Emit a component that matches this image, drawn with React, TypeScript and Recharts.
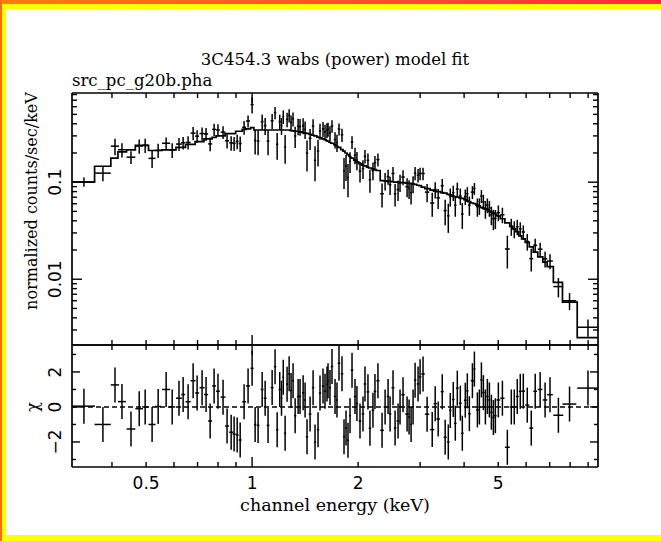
import React from 'react';
import { ComposedChart, Scatter, Line, XAxis, YAxis, ErrorBar, ReferenceLine } from 'recharts';

// channel centres (keV) and half widths
const energy = [
  0.333, 0.377, 0.408, 0.427, 0.453, 0.478, 0.497, 0.520, 0.541, 0.570,
  0.593, 0.620, 0.637, 0.658, 0.680, 0.698, 0.721, 0.740, 0.760, 0.780,
  0.800, 0.827, 0.849, 0.872, 0.889, 0.907, 0.925, 0.949, 0.974, 1.000,
  1.020, 1.040, 1.068, 1.089, 1.110, 1.140, 1.162, 1.178, 1.198, 1.212,
  1.226, 1.241, 1.257, 1.274, 1.290, 1.307, 1.325, 1.351, 1.368, 1.396,
  1.414, 1.432, 1.461, 1.490, 1.509, 1.539, 1.559, 1.590, 1.611, 1.632,
  1.643, 1.664, 1.686, 1.720, 1.742, 1.765, 1.800, 1.824, 1.848, 1.872,
  1.897, 1.922, 1.960, 1.985,
  2.025, 2.065, 2.092, 2.133, 2.161, 2.204, 2.233, 2.277, 2.339, 2.386,
  2.433, 2.465, 2.513, 2.547, 2.597, 2.631, 2.683, 2.755, 2.791, 2.828,
  2.865, 2.903, 2.960, 2.999, 3.058, 3.140, 3.247, 3.311, 3.376, 3.467,
  3.534, 3.607, 3.654, 3.726, 3.776, 3.826, 3.902, 3.953, 4.031, 4.085,
  4.140, 4.223, 4.278, 4.363, 4.420, 4.479, 4.537, 4.597, 4.657, 4.719,
  4.781, 4.844, 4.907, 5.004, 5.138, 5.307, 5.446, 5.553, 5.663, 5.775,
  5.890, 6.045, 6.205, 6.367, 6.576, 6.792, 7.015, 7.410, 7.970, 8.990,
];

const energyErr = [
  0.025, 0.020, 0.011, 0.011, 0.013, 0.012, 0.010, 0.012, 0.011, 0.015,
  0.012, 0.012, 0.008, 0.011, 0.011, 0.009, 0.012, 0.010, 0.010, 0.010,
  0.010, 0.013, 0.011, 0.011, 0.009, 0.009, 0.009, 0.012, 0.013, 0.010,
  0.008, 0.009, 0.010, 0.010, 0.010, 0.011, 0.009, 0.009, 0.009, 0.007,
  0.007, 0.008, 0.008, 0.008, 0.008, 0.009, 0.010, 0.010, 0.010, 0.011,
  0.009, 0.011, 0.013, 0.012, 0.011, 0.012, 0.012, 0.012, 0.011, 0.008,
  0.008, 0.011, 0.014, 0.014, 0.011, 0.015, 0.015, 0.012, 0.012, 0.012,
  0.012, 0.016, 0.016, 0.014,
  0.018, 0.017, 0.017, 0.019, 0.017, 0.019, 0.019, 0.024, 0.028, 0.023,
  0.022, 0.020, 0.025, 0.021, 0.025, 0.022, 0.030, 0.032, 0.018, 0.018,
  0.018, 0.022, 0.025, 0.025, 0.035, 0.045, 0.045, 0.035, 0.040, 0.035,
  0.035, 0.030, 0.028, 0.032, 0.030, 0.035, 0.035, 0.035, 0.035, 0.030,
  0.035, 0.045, 0.030, 0.040, 0.035, 0.035, 0.035, 0.035, 0.035, 0.035,
  0.035, 0.035, 0.040, 0.060, 0.070, 0.085, 0.055, 0.055, 0.055, 0.055,
  0.065, 0.080, 0.080, 0.080, 0.100, 0.100, 0.130, 0.240, 0.360, 0.610,
];

// normalized counts/sec/keV
const flux = [
  0.1005, 0.124, 0.235, 0.216, 0.181, 0.236, 0.240, 0.176, 0.213, 0.252,
  0.215, 0.247, 0.255, 0.257, 0.320, 0.298, 0.317, 0.314, 0.248, 0.350,
  0.345, 0.328, 0.267, 0.254, 0.251, 0.263, 0.250, 0.368, 0.427, 0.630,
  0.269, 0.265, 0.421, 0.383, 0.265, 0.429, 0.520, 0.246, 0.421, 0.383,
  0.474, 0.231, 0.444, 0.489, 0.411, 0.449, 0.299, 0.377, 0.374, 0.383,
  0.350, 0.199, 0.284, 0.379, 0.168, 0.209, 0.337, 0.354, 0.330, 0.345,
  0.352, 0.321, 0.379, 0.275, 0.257, 0.353, 0.308, 0.131, 0.147, 0.112,
  0.164, 0.259, 0.190, 0.169,
  0.130, 0.138, 0.185, 0.168, 0.106, 0.132, 0.159, 0.171, 0.076, 0.103,
  0.114, 0.094, 0.123, 0.076, 0.084, 0.099, 0.113, 0.090, 0.086, 0.078,
  0.096, 0.124, 0.118, 0.123, 0.123, 0.079, 0.061, 0.084, 0.069, 0.092,
  0.051, 0.045, 0.071, 0.078, 0.058, 0.085, 0.072, 0.047, 0.071, 0.076,
  0.058, 0.079, 0.086, 0.056, 0.057, 0.072, 0.063, 0.053, 0.058, 0.054,
  0.046, 0.042, 0.0423, 0.0486, 0.0462, 0.0205, 0.035, 0.033, 0.0347, 0.033,
  0.0307, 0.0245, 0.0163, 0.0224, 0.0204, 0.0162, 0.0154, 0.0084, 0.0060, 0.0032,
];

const fluxErr = [
  0.011, 0.022, 0.046, 0.036, 0.027, 0.040, 0.040, 0.036, 0.036, 0.037,
  0.037, 0.038, 0.038, 0.040, 0.050, 0.045, 0.050, 0.048, 0.040, 0.050,
  0.050, 0.050, 0.045, 0.043, 0.042, 0.045, 0.045, 0.060, 0.060, 0.120,
  0.076, 0.076, 0.076, 0.076, 0.076, 0.076, 0.076, 0.076, 0.076, 0.076,
  0.076, 0.076, 0.076, 0.076, 0.075, 0.074, 0.074, 0.073, 0.073, 0.072,
  0.071, 0.070, 0.069, 0.067, 0.066, 0.064, 0.063, 0.062, 0.061, 0.059,
  0.058, 0.057, 0.055, 0.053, 0.052, 0.050, 0.048, 0.046, 0.044, 0.042,
  0.040, 0.039, 0.037, 0.036,
  0.031, 0.030, 0.029, 0.029, 0.028, 0.027, 0.027, 0.026, 0.021, 0.021,
  0.020, 0.020, 0.020, 0.020, 0.020, 0.020, 0.020, 0.020, 0.019, 0.019,
  0.019, 0.019, 0.019, 0.018, 0.018, 0.017, 0.017, 0.016, 0.016, 0.016,
  0.015, 0.015, 0.015, 0.014, 0.014, 0.014, 0.014, 0.014, 0.013, 0.013,
  0.013, 0.012, 0.012, 0.012, 0.011, 0.011, 0.011, 0.011, 0.010, 0.010,
  0.010, 0.010, 0.0094, 0.009, 0.0084, 0.0076, 0.007, 0.0066, 0.0062, 0.0056,
  0.0052, 0.0048, 0.0043, 0.0038, 0.0034, 0.003, 0.0027, 0.0019, 0.0012, 0.00065,
];

// folded wabs*power model per channel
const model = [
  0.100, 0.146, 0.177, 0.205, 0.215, 0.240, 0.240, 0.212, 0.212, 0.215,
  0.215, 0.228, 0.228, 0.245, 0.245, 0.262, 0.262, 0.280, 0.280, 0.290,
  0.300, 0.300, 0.316, 0.316, 0.316, 0.335, 0.335, 0.350, 0.355, 0.365,
  0.345, 0.345, 0.345, 0.345, 0.345, 0.345, 0.345, 0.345, 0.345, 0.345,
  0.345, 0.345, 0.345, 0.345, 0.340, 0.338, 0.336, 0.333, 0.330, 0.325,
  0.322, 0.318, 0.312, 0.305, 0.300, 0.292, 0.287, 0.280, 0.275, 0.268,
  0.265, 0.258, 0.252, 0.243, 0.236, 0.228, 0.217, 0.209, 0.200, 0.192,
  0.184, 0.177, 0.168, 0.162,
  0.155, 0.150, 0.147, 0.143, 0.140, 0.137, 0.135, 0.132, 0.104, 0.103,
  0.102, 0.102, 0.101, 0.100, 0.100, 0.099, 0.099, 0.098, 0.097, 0.097,
  0.096, 0.095, 0.093, 0.092, 0.089, 0.086, 0.083, 0.081, 0.080, 0.078,
  0.077, 0.075, 0.074, 0.072, 0.071, 0.070, 0.069, 0.068, 0.066, 0.064,
  0.063, 0.061, 0.060, 0.058, 0.057, 0.055, 0.054, 0.053, 0.052, 0.050,
  0.049, 0.048, 0.047, 0.045, 0.042, 0.038, 0.035, 0.033, 0.031, 0.028,
  0.026, 0.024, 0.0215, 0.019, 0.017, 0.015, 0.0135, 0.0093, 0.0058, 0.0025,
];

const xTicks = [0.4, 0.5, 0.6, 0.7, 0.8, 0.9, 1, 2, 3, 4, 5, 6, 7, 8, 9];
const xTickLabels = [0.5, 1, 2, 5];
const xMajor = [1];
const yTicks = [
  0.003, 0.004, 0.005, 0.006, 0.007, 0.008, 0.009,
  0.01, 0.02, 0.03, 0.04, 0.05, 0.06, 0.07, 0.08, 0.09,
  0.1, 0.2, 0.3, 0.4, 0.5, 0.6, 0.7, 0.8,
];
const yTickLabels = [0.01, 0.1];
const chiTicks = [-3, -2, -1, 0, 1, 2, 3];
const chiTickLabels = [-2, 0, 2];

const W = 661;
const H = 541;
const LEFT = 72;
const RIGHT = 598;
const TOP = 93;
const MID = 345;
const BOTTOM = 467;

const xDomain = [0.308, 9.6];
const yDomain = [0.0021, 0.83];
const chiDomain = [-3.43, 3.54];

const points = energy.map((e, i) => ({
  e,
  de: energyErr[i],
  f: flux[i],
  fe: fluxErr[i],
  chi: (flux[i] - model[i]) / fluxErr[i],
  one: 1,
}));

const modelSteps = energy.map((e, i) => ({ e: e - energyErr[i], m: model[i] }));
modelSteps.push({
  e: energy[energy.length - 1] + energyErr[energyErr.length - 1],
  m: model[model.length - 1],
});

const tickFont = '"DejaVu Sans", sans-serif';
const labelFont = '"DejaVu Serif", serif';
const frame = { stroke: '#000', strokeWidth: 1.7 };
const BAR = 1.5;

type Side = 'top' | 'bottom' | 'left' | 'right';

const fmt = (v: number) => (v < 0 ? `\u2212${-v}` : String(v));

const makeTick = (side: Side, majors: number[], labels: number[], long: number, short: number) =>
  (props: any) => {
    const { x, y, payload } = props;
    const v = payload.value;
    const len = majors.includes(v) ? long : short;
    const dx = side === 'left' ? len : side === 'right' ? -len : 0;
    const dy = side === 'bottom' ? -len : side === 'top' ? len : 0;
    const show = labels.includes(v);
    return (
      <g>
        <line x1={x} y1={y} x2={x + dx} y2={y + dy} stroke="#000" strokeWidth={1.4} />
        {show && side === 'bottom' && (
          <text x={x} y={y + 16} textAnchor="middle" dominantBaseline="central"
            fontFamily={tickFont} fontSize={17} fill="#000">{fmt(v)}</text>
        )}
        {show && side === 'left' && (
          <text x={x - 17} y={y} transform={`rotate(-90 ${x - 17} ${y})`} textAnchor="middle"
            dominantBaseline="central" fontFamily={tickFont} fontSize={17} fill="#000">{fmt(v)}</text>
        )}
      </g>
    );
  };

const noDot = () => <g />;

// four axes per panel; each is 1px thick so Recharts draws it, margins take that pixel back
const Frame = ({ yKey, domain, ticks, majors, labels, long, short, xLabels }: any) => [
  <XAxis key="xb" xAxisId="b" dataKey="e" type="number" scale="log" domain={xDomain} allowDataOverflow
    ticks={xTicks} interval={0} tickSize={0} tickMargin={0} tickLine={false} axisLine={frame} height={1}
    tick={makeTick('bottom', xMajor, xLabels, 10, 5)} />,
  <XAxis key="xt" xAxisId="t" orientation="top" dataKey="e" type="number" scale="log" domain={xDomain}
    allowDataOverflow ticks={xTicks} interval={0} tickSize={0} tickMargin={0} tickLine={false}
    axisLine={frame} height={1} tick={makeTick('top', xMajor, [], 10, 5)} />,
  <YAxis key="yl" yAxisId="l" dataKey={yKey} type="number" scale={yKey === 'f' ? 'log' : 'linear'}
    domain={domain} allowDataOverflow ticks={ticks} interval={0} tickSize={0} tickMargin={0}
    tickLine={false} axisLine={frame} width={1} tick={makeTick('left', majors, labels, long, short)} />,
  <YAxis key="yr" yAxisId="r" orientation="right" dataKey={yKey} type="number"
    scale={yKey === 'f' ? 'log' : 'linear'} domain={domain} allowDataOverflow ticks={ticks} interval={0}
    tickSize={0} tickMargin={0} tickLine={false} axisLine={frame} width={1}
    tick={makeTick('right', majors, [], long, short)} />,
];

const App: React.FC = () => {
  return (
    <div style={{ position: 'fixed', left: 0, top: 0, width: W, height: H, background: '#ffff00', overflow: 'hidden' }}>
      <div style={{ position: 'absolute', left: 0, top: 0, width: W, height: 4, background: 'linear-gradient(to right, #ff7a10, #ff2a40)' }} />
      <div style={{ position: 'absolute', left: 0, top: 0, width: 2, height: H, background: '#ff6a10' }} />
      <div style={{ position: 'absolute', left: 6, top: 9, width: W - 6, height: 535 - 9, background: '#ffffff' }} />

      {/* spectrum panel */}
      <div style={{ position: 'absolute', left: 0, top: 0 }}>
        <ComposedChart width={W} height={H}
          margin={{ top: TOP - 1, right: W - RIGHT - 1, bottom: H - MID - 1, left: LEFT - 1 }}>
          {Frame({ yKey: 'f', domain: yDomain, ticks: yTicks, majors: yTickLabels, labels: yTickLabels, long: 10, short: 5, xLabels: [] })}
          <Line xAxisId="b" yAxisId="l" data={modelSteps} dataKey="m" type="stepAfter" stroke="#000"
            strokeWidth={1.7} dot={false} activeDot={false} isAnimationActive={false} />
          <Scatter xAxisId="b" yAxisId="l" data={points} shape={noDot} isAnimationActive={false}>
            <ErrorBar dataKey="fe" direction="y" width={0} stroke="#000" strokeWidth={BAR} isAnimationActive={false} />
            <ErrorBar dataKey="de" direction="x" width={0} stroke="#000" strokeWidth={BAR} isAnimationActive={false} />
          </Scatter>
        </ComposedChart>
      </div>

      {/* delta chi panel */}
      <div style={{ position: 'absolute', left: 0, top: 0 }}>
        <ComposedChart width={W} height={H}
          margin={{ top: MID - 1, right: W - RIGHT - 1, bottom: H - BOTTOM - 1, left: LEFT - 1 }}>
          {Frame({ yKey: 'chi', domain: chiDomain, ticks: chiTicks, majors: chiTickLabels, labels: chiTickLabels, long: 8, short: 4, xLabels: xTickLabels })}
          <ReferenceLine xAxisId="b" yAxisId="l" y={0} stroke="#000" strokeWidth={1.4} strokeDasharray="5 3" />
          <Scatter xAxisId="b" yAxisId="l" data={points} shape={noDot} isAnimationActive={false}>
            <ErrorBar dataKey="one" direction="y" width={0} stroke="#000" strokeWidth={BAR} isAnimationActive={false} />
            <ErrorBar dataKey="de" direction="x" width={0} stroke="#000" strokeWidth={BAR} isAnimationActive={false} />
          </Scatter>
        </ComposedChart>
      </div>

      {/* titles and axis labels */}
      <svg width={W} height={H} style={{ position: 'absolute', left: 0, top: 0, pointerEvents: 'none' }}>
        <g fontFamily={labelFont} fill="#000">
          <text x={(LEFT + RIGHT) / 2} y={59} fontSize={16.5} textAnchor="middle" dominantBaseline="central">3C454.3 wabs (power) model fit</text>
          <text x={LEFT} y={80} fontSize={16.5} dominantBaseline="central">src_pc_g20b.pha</text>
          <text x={(LEFT + RIGHT) / 2} y={505} fontSize={17.5} textAnchor="middle" dominantBaseline="central">channel energy (keV)</text>
          <text x={31} y={201} fontSize={16} transform="rotate(-90 31 201)" textAnchor="middle" dominantBaseline="central">normalized counts/sec/keV</text>
          <text x={32} y={407} fontSize={16} transform="rotate(-90 32 407)" textAnchor="middle" dominantBaseline="central">χ</text>
        </g>
      </svg>
    </div>
  );
};

export default App;
